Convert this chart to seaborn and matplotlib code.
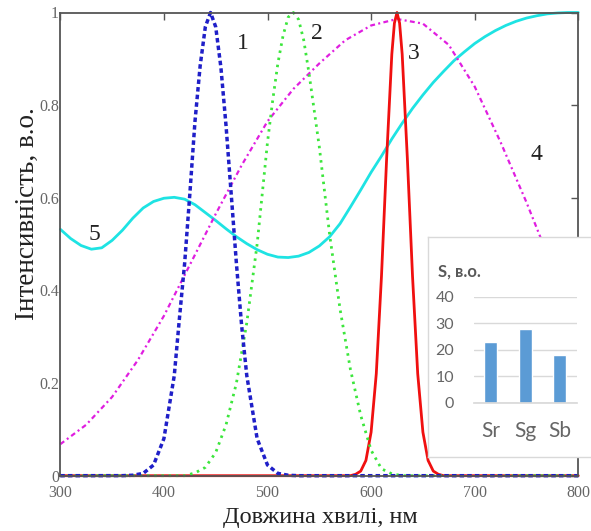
import matplotlib
matplotlib.use("Agg")
import matplotlib.pyplot as plt
import numpy as np
import pandas as pd
import seaborn as sns

# ---- emission / sensitivity spectra (wavelength, nm -> relative intensity) ----
wl_blue = [300, 360, 370, 380, 390, 400, 410, 415, 420, 425, 430, 435, 440, 445,
           450, 455, 460, 465, 470, 475, 480, 490, 500, 510, 520, 530, 800]
val_blue = [0.0, 0.0001, 0.001, 0.005, 0.023, 0.080, 0.216, 0.34, 0.458, 0.607, 0.765,
            0.885, 0.969, 1.0, 0.969, 0.882, 0.755, 0.607, 0.458, 0.325, 0.216, 0.080,
            0.023, 0.005, 0.001, 0.0, 0.0]

wl_green = [300, 420, 430, 440, 450, 460, 470, 480, 490, 500, 505, 510, 515, 520, 525,
            530, 535, 540, 545, 550, 560, 570, 580, 590, 600, 610, 620, 630, 800]
val_green = [0.0, 0.0, 0.006, 0.018, 0.05, 0.11, 0.20, 0.33, 0.50, 0.72, 0.81, 0.89,
             0.95, 0.99, 1.0, 0.985, 0.94, 0.87, 0.79, 0.71, 0.52, 0.36, 0.23, 0.13,
             0.055, 0.015, 0.004, 0.0, 0.0]

wl_red = [300, 580, 585, 590, 595, 600, 605, 610, 615, 620, 622.5, 625, 627.5, 630,
          635, 640, 645, 650, 655, 660, 665, 670, 800]
val_red = [0.0, 0.0, 0.003, 0.01, 0.033, 0.094, 0.22, 0.43, 0.685, 0.91, 0.977, 1.0,
           0.977, 0.91, 0.685, 0.43, 0.22, 0.094, 0.033, 0.01, 0.003, 0.0, 0.0]

wl_magenta = [300, 325, 350, 375, 400, 425, 450, 475, 500, 525, 550, 575, 600, 625,
              650, 675, 700, 725, 750, 775, 800]
val_magenta = [0.068, 0.11, 0.17, 0.25, 0.345, 0.455, 0.565, 0.67, 0.765, 0.835, 0.89,
               0.94, 0.972, 0.986, 0.976, 0.93, 0.84, 0.72, 0.59, 0.45, 0.32]

wl_cyan = list(range(300, 801, 10))
val_cyan = [0.532, 0.512, 0.497, 0.489, 0.492, 0.508, 0.530, 0.556, 0.578, 0.592,
            0.599, 0.601, 0.597, 0.585, 0.568, 0.551, 0.533, 0.516, 0.501, 0.488,
            0.478, 0.472, 0.471, 0.474, 0.482, 0.496, 0.516, 0.544, 0.580, 0.617,
            0.655, 0.690, 0.727, 0.761, 0.793, 0.822, 0.849, 0.873, 0.896, 0.915,
            0.933, 0.948, 0.961, 0.972, 0.981, 0.988, 0.993, 0.997, 0.999, 1.0, 1.0]

# ---- integral sensitivities (inset) ----
s_names = ["Sr", "Sg", "Sb"]
s_values = [23, 28, 18]

x_ticks = [300, 400, 500, 600, 700, 800]
y_ticks = [0, 0.2, 0.4, 0.6, 0.8, 1.0]
y_tick_labels = ["0", "0.2", "0.4", "0.6", "0.8", "1"]

sns.set_theme(style="white")
plt.rcParams["font.family"] = ["Liberation Serif", "DejaVu Serif"]

W, H = 591, 531
fig = plt.figure(figsize=(W / 100, H / 100), dpi=100)
fig.patch.set_facecolor("white")

def fx(px):
    return px / W

def fy(py):
    return 1 - py / H

ax = fig.add_axes([fx(60.3), fy(475.7), fx(578.3) - fx(60.3), fy(12.5) - fy(475.7)])
ax.set_facecolor("white")

curves = [
    (wl_cyan, val_cyan, "#1EE3E3", "-", 2.0),
    (wl_magenta, val_magenta, "#E01EE0", (0, (2.2, 1.5, 0.9, 1.5)), 1.6),
    (wl_red, val_red, "#F01010", "-", 2.0),
    (wl_green, val_green, "#3CE63C", (0, (0.9, 1.7)), 2.0),
    (wl_blue, val_blue, "#1F1FC8", (0, (1.3, 0.9)), 2.5),
]
for wl, val, col, ls, lw in curves:
    df = pd.DataFrame({"wl": wl, "I": val})
    sns.lineplot(data=df, x="wl", y="I", ax=ax, color=col, linestyle=ls,
                 linewidth=lw, clip_on=False, estimator=None, sort=False)

ax.set_xlim(300, 800)
ax.set_ylim(0, 1.0)
ax.set_xticks(x_ticks)
ax.set_xticklabels([str(t) for t in x_ticks])
ax.set_yticks(y_ticks)
ax.set_yticklabels(y_tick_labels)
ax.set_xlabel("")
ax.set_ylabel("")
ax.tick_params(direction="in", top=True, right=True, length=5, width=1.0,
               color="#555555", labelcolor="#666666", labelsize=11.5)
ax.tick_params(axis="y", pad=1)
ax.tick_params(axis="x", pad=6.5)
for sp in ax.spines.values():
    sp.set_color("#555555")
    sp.set_linewidth(1.3)

# curve numbers
for txt, x, y in [("1", 476, 0.932), ("2", 548, 0.955), ("3", 641, 0.911),
                  ("4", 760, 0.694), ("5", 333, 0.521)]:
    ax.text(x, y, txt, fontsize=17, color="#222222", ha="center", va="center")

fig.text(fx(320), fy(517), "Довжина хвилі, нм", fontsize=17.5, color="#222222",
         ha="center", va="center")
fig.text(fx(27), fy(214), "Інтенсивність, в.о.", fontsize=19.5, color="#222222",
         ha="center", va="center", rotation=90)

# ---- inset with bar chart ----
box = fig.add_axes([fx(428.3), fy(456.7), fx(600) - fx(428.3), fy(237.3) - fy(456.7)])
box.set_facecolor("white")
box.set_xticks([])
box.set_yticks([])
for sp in box.spines.values():
    sp.set_color("#d9d9d9")
    sp.set_linewidth(1.0)
box.set_zorder(5)

inset = fig.add_axes([fx(473.5), fy(402.7), fx(577) - fx(473.5), fy(296.7) - fy(402.7)])
inset.set_zorder(6)
inset.patch.set_alpha(0)
bdf = pd.DataFrame({"name": s_names, "S": s_values})
sns.barplot(data=bdf, x="name", y="S", ax=inset, color="#5B9BD5", width=0.39,
            saturation=1)
inset.set_ylim(0, 40)
inset.set_xlim(-0.5, 2.5)
inset.set_yticks([0, 10, 20, 30, 40])
inset.yaxis.grid(True, color="#d9d9d9", linewidth=1.0)
inset.set_axisbelow(True)
for s in ["left", "right", "top"]:
    inset.spines[s].set_visible(False)
inset.spines["bottom"].set_color("#d9d9d9")
inset.set_xlabel("")
inset.set_ylabel("")
inset.tick_params(axis="y", length=0, pad=14, labelsize=11.5, labelcolor="#666666")
inset.tick_params(axis="x", length=0, pad=13, labelsize=15, labelcolor="#666666")
for lab in inset.get_xticklabels() + inset.get_yticklabels():
    lab.set_family(["Lato", "DejaVu Sans"])
fig.text(fx(438), fy(271.7), "S, в.о.", fontsize=12, fontweight="bold",
         color="#595959", ha="left", va="center", family=["Lato", "DejaVu Sans"],
         zorder=7)

fig.savefig("out.png", dpi=100, facecolor="white")
